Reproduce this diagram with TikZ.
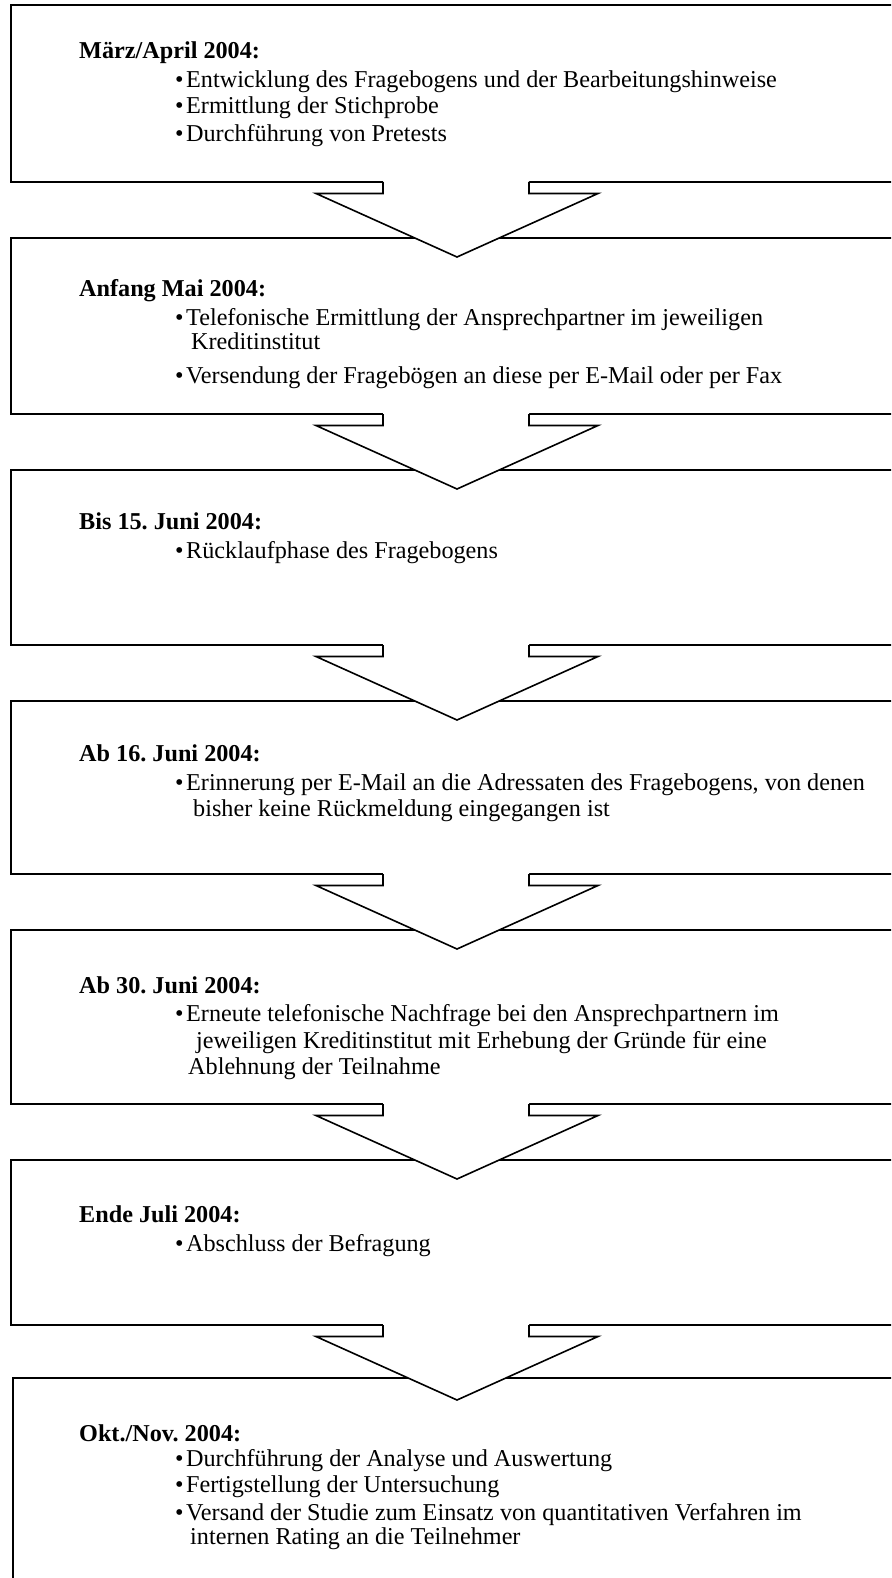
\documentclass[tikz,border=0pt]{standalone}
\usepackage{fontspec}
\setmainfont{Liberation Serif}
\frenchspacing
\tikzset{
  boxline/.style={draw=black, line width=2.1pt},
  arrowline/.style={draw=black, line width=1.6pt, line join=miter},
  title/.style={anchor=base west, inner sep=0pt, font=\fontsize{24.2}{28}\selectfont\bfseries},
  txt/.style={anchor=base west, inner sep=0pt, font=\fontsize{24.2}{28}\selectfont},
}
\newcommand\blockarrow[1]{%
  \fill[white] (383,#1-1.8) -- (383,#1+11.5) -- (316,#1+11.5) -- (457,#1+75) -- (598,#1+11.5) -- (529,#1+11.5) -- (529,#1-1.8) -- cycle;
  \draw[arrowline] (383,#1) -- (383,#1+11.5) -- (316,#1+11.5) -- (457,#1+75) -- (598,#1+11.5) -- (529,#1+11.5) -- (529,#1);
}
\begin{document}
\begin{tikzpicture}[x=1pt,y=-1pt]
\useasboundingbox (0,0) rectangle (891,1578);
\clip (0,0) rectangle (891,1578);
% boxes
\draw[boxline] (11,5) rectangle (1000,182);
\draw[boxline] (11,238) rectangle (1000,414);
\draw[boxline] (11,470) rectangle (1000,645);
\draw[boxline] (11,701) rectangle (1000,874);
\draw[boxline] (11,930) rectangle (1000,1104);
\draw[boxline] (11,1160) rectangle (1000,1325);
\draw[boxline] (13,1378) rectangle (1000,1700);
% arrows
\blockarrow{182}
\blockarrow{414}
\blockarrow{645}
\blockarrow{874}
\blockarrow{1104}
\blockarrow{1325}
% box 1
\node[title] (t1) at (79,59) {März/April 2004:};
\node[txt] (t1a) at (175,88) {•\hspace{2.5pt}Entwicklung des Fragebogens und der Bearbeitungshinweise};
\node[txt] (t1b) at (175,114) {•\hspace{2.5pt}Ermittlung der Stichprobe};
\node[txt] (t1c) at (175,142) {•\hspace{2.5pt}Durchführung von Pretests};
% box 2
\node[title] (t2) at (79,297) {Anfang Mai 2004:};
\node[txt] (t2a) at (175,326) {•\hspace{2.5pt}Telefonische Ermittlung der Ansprechpartner im jeweiligen};
\node[txt] (t2b) at (191,349) {Kreditinstitut};
\node[txt] (t2c) at (175,383) {•\hspace{2.5pt}Versendung der Fragebögen an diese per E-Mail oder per Fax};
% box 3
\node[title] (t3) at (79,529) {Bis 15. Juni 2004:};
\node[txt] (t3a) at (175,558) {•\hspace{2.5pt}Rücklaufphase des Fragebogens};
% box 4
\node[title] (t4) at (79,761) {Ab 16. Juni 2004:};
\node[txt] (t4a) at (175,790) {•\hspace{2.5pt}Erinnerung per E-Mail an die Adressaten des Fragebogens, von denen};
\node[txt] (t4b) at (193,816) {bisher keine Rückmeldung eingegangen ist};
% box 5
\node[title] (t5) at (79,993) {Ab 30. Juni 2004:};
\node[txt] (t5a) at (175,1021) {•\hspace{2.5pt}Erneute telefonische Nachfrage bei den Ansprechpartnern im};
\node[txt] (t5b) at (196,1048) {jeweiligen Kreditinstitut mit Erhebung der Gründe für eine};
\node[txt] (t5c) at (188,1074) {Ablehnung der Teilnahme};
% box 6
\node[title] (t6) at (79,1222) {Ende Juli 2004:};
\node[txt] (t6a) at (175,1251) {•\hspace{2.5pt}Abschluss der Befragung};
% box 7
\node[title] (t7) at (79,1441) {Okt./Nov. 2004:};
\node[txt] (t7a) at (175,1466) {•\hspace{2.5pt}Durchführung der Analyse und Auswertung};
\node[txt] (t7b) at (175,1492) {•\hspace{2.5pt}Fertigstellung der Untersuchung};
\node[txt] (t7c) at (175,1520) {•\hspace{2.5pt}Versand der Studie zum Einsatz von quantitativen Verfahren im};
\node[txt] (t7d) at (190,1544) {internen Rating an die Teilnehmer};
\end{tikzpicture}
\end{document}
